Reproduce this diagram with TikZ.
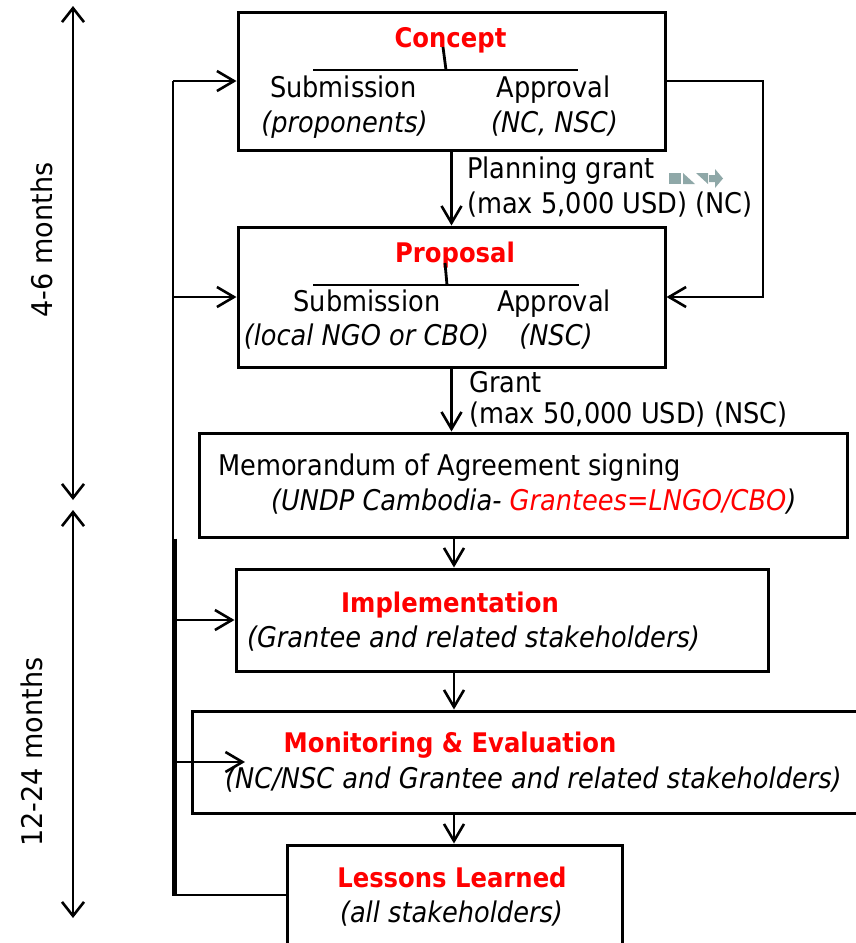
\documentclass[tikz,border=0pt]{standalone}
\usepackage{fontspec}
\setmainfont{DejaVu Sans}[FakeStretch=0.9]
\newfontfamily\timefont{DejaVu Sans}[FakeStretch=0.95]
\usepackage{tikz}
\usetikzlibrary{arrows.meta}

\definecolor{titlered}{RGB}{255,0,0}
\definecolor{glyphgrey}{RGB}{143,168,168}

\tikzset{
  box/.style={draw, line width=3pt, inner sep=0pt},
  txt/.style={inner sep=0pt, anchor=base, font=\fontsize{28.5}{34}\selectfont},
  itxt/.style={inner sep=0pt, anchor=base, font=\fontsize{28.5}{34}\selectfont\itshape},
  ttl/.style={inner sep=0pt, anchor=base, text=titlered, font=\fontsize{27}{32}\selectfont\bfseries},
  flow/.style={line width=2.6pt, -{Straight Barb[length=17pt,width=20pt,line width=2.6pt]}},
  span/.style={line width=2.6pt, {Straight Barb[length=14pt,width=22pt,line width=2.6pt]}-{Straight Barb[length=14pt,width=22pt,line width=2.6pt]}},
}

\begin{document}
\begin{tikzpicture}[x=1pt,y=-1pt]
    \useasboundingbox (0,0) rectangle (856,943);
    \coordinate (axis) at (454,0);
    \coordinate (loopL) at (173,0);
    \coordinate (loopLb) at (175,0);
    \coordinate (loopR) at (763,0);
    \coordinate (spanA) at (73,6);
    \coordinate (spanB) at (73,500);
    \coordinate (spanC) at (73,510);
    \coordinate (spanD) at (73,918);

    % boxes
    \node[box, minimum width=427pt, minimum height=138pt] (concept) at (451.5,81) {};
    \node[box, minimum width=427pt, minimum height=140pt] (proposal) at (451.5,297) {};
    \node[box, minimum width=648pt, minimum height=104pt] (moa) at (523,485) {};
    \node[box, minimum width=532pt, minimum height=102pt] (impl) at (502,620) {};
    \node[box, minimum width=708pt, minimum height=102pt] (me) at (546,762) {};
    \node[box, minimum width=335pt, minimum height=100pt] (ll) at (454.5,895) {};

    % concept
    \node[ttl] (conceptTtl) at (450.5,47) {Concept};
    \node[txt] (conceptSub) at (343.5,97) {Submission};
    \node[txt] (conceptApp) at (553.5,97) {Approval};
    \node[itxt] (conceptWho) at (344.5,132) {(proponents)};
    \node[itxt] (conceptBy) at (554.5,132) {(NC, NSC)};
    \draw[line width=2.8pt] (313,70) -- (578,70); % bar
    \draw[line width=2.8pt] (443,47) -- (446,70); % tick

    % proposal
    \node[ttl] (proposalTtl) at (455,262) {Proposal};
    \node[txt] (proposalSub) at (367,311) {Submission};
    \node[txt] (proposalApp) at (554,311) {Approval};
    \node[itxt] (proposalWho) at (366.5,345) {(local NGO or CBO)};
    \node[itxt] (proposalBy) at (556,345) {(NSC)};
    \draw[line width=2.8pt] (313,285) -- (579,285); % bar
    \draw[line width=2.8pt] (445,263) -- (447,285); % tick

    % grants
    \node[txt, anchor=base west] (planGrant) at (467,178) {Planning grant};
    \node[txt, anchor=base west] (planMax) at (467,213) {(max 5,000 USD) (NC)};
    \node[txt, anchor=base west] (grant) at (469,392) {Grant};
    \node[txt, anchor=base west] (grantMax) at (469,423) {(max 50,000 USD) (NSC)};

    % grey glyph
    \fill[glyphgrey] (669,173) rectangle (681,184);
    \fill[glyphgrey] (683,173) -- (695,184) -- (683,184) -- cycle;
    \fill[glyphgrey] (696,173) -- (708,173) -- (708,184) -- cycle;
    \fill[glyphgrey] (709,175) -- (715,175) -- (715,169) -- (723,178.5) -- (715,188) -- (715,182) -- (709,182) -- cycle;

    % agreement
    \node[txt, anchor=base west] (moaTxt) at (218,475) {Memorandum of Agreement signing};
    \node[itxt, anchor=base west] (moaWho) at (271,510) {(UNDP Cambodia- \textcolor{titlered}{Grantees=LNGO/CBO})};

    % implementation, M&E, lessons
    \node[ttl] (implTtl) at (450,612) {Implementation};
    \node[itxt] (implWho) at (473.5,647) {(Grantee and related stakeholders)};
    \node[ttl] (meTtl) at (450,752) {Monitoring \& Evaluation};
    \node[itxt, anchor=base west] (meWho) at (225,788) {(NC/NSC and Grantee and related stakeholders)};
    \node[ttl] (llTtl) at (452,887) {Lessons Learned};
    \node[itxt] (llWho) at (451.5,922) {(all stakeholders)};

    % main flow
    \draw[flow] (concept.south) -- (proposal.north);
    \draw[flow] (proposal.south) -- (proposal.south |- moa.north);
    \draw[flow] (moa.south -| axis) -- (impl.north -| axis);
    \draw[flow] (impl.south -| axis) -- (me.north -| axis);
    \draw[flow] (me.south -| axis) -- (ll.north -| axis);

    % feedback loops
    \draw[flow] (concept.east) -- (concept.east -| loopR) -- (proposal.east -| loopR) -- (proposal.east);
    \draw[line width=2.6pt] (ll.west) -- (loopL |- ll.west) -- (loopL |- concept.west);
    \draw[line width=4.5pt] (loopLb |- moa.south) -- (loopLb |- ll.west);
    \draw[flow] (loopL |- concept.west) -- (concept.west);
    \draw[flow] (loopL |- proposal.west) -- (proposal.west);
    \draw[flow] (loopL |- impl.west) -- (impl.west);
    \draw[flow] (loopL |- me.west) -- ++(72,0);

    % time spans
    \draw[span] (spanA) -- (spanB);
    \draw[span] (spanC) -- (spanD);
    \node[rotate=90, inner sep=0pt, font=\timefont\fontsize{28.5}{34}\selectfont] (shortSpan) at (42,240) {4-6 months};
    \node[rotate=90, inner sep=0pt, font=\timefont\fontsize{28.5}{34}\selectfont] (longSpan) at (32,752) {12-24 months};
\end{tikzpicture}
\end{document}
